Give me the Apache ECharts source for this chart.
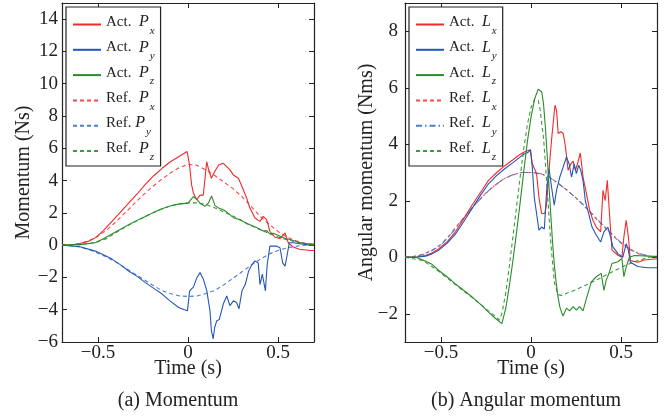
<!DOCTYPE html>
<html>
<head>
<meta charset="utf-8">
<script src="https://cdn.jsdelivr.net/npm/echarts@6/dist/echarts.min.js"></script>
<style>
html,body{margin:0;padding:0;background:#fff;}
#c{width:668px;height:419px;}
</style>
</head>
<body>
<div id="c"></div>
<script>
// ---------- (a) Momentum ----------
const tActPx = [-0.7,-0.65,-0.6,-0.55,-0.515,-0.47,-0.42,-0.375,-0.33,-0.28,-0.237,-0.19,-0.144,-0.1,-0.052,-0.005,0.008,0.02,0.03,0.048,0.067,0.085,0.095,0.104,0.113,0.13,0.148,0.17,0.196,0.215,0.233,0.252,0.28,0.3,0.326,0.344,0.372,0.4,0.418,0.437,0.455,0.483,0.511,0.539,0.557,0.585,0.62,0.678,0.7];
const actPx  = [0,0.0,0.1,0.25,0.45,0.9,1.5,2.05,2.6,3.2,3.77,4.3,4.76,5.15,5.48,5.8,5.0,3.73,3.22,2.81,3.1,3.1,4.2,5.17,4.75,4.14,4.55,4.96,5.07,4.86,4.66,4.35,4.14,3.63,2.91,2.3,1.68,1.47,1.78,1.58,0.86,0.49,0.41,0.76,0.15,-0.12,-0.25,-0.33,-0.33];

const tActPy = [-0.7,-0.6,-0.515,-0.47,-0.42,-0.375,-0.33,-0.28,-0.237,-0.19,-0.144,-0.1,-0.052,-0.02,-0.003,0.009,0.03,0.05,0.067,0.085,0.104,0.122,0.13,0.14,0.148,0.16,0.174,0.196,0.215,0.233,0.252,0.27,0.283,0.3,0.318,0.337,0.355,0.372,0.39,0.4,0.413,0.43,0.44,0.455,0.49,0.511,0.526,0.539,0.548,0.563,0.585,0.678,0.7];
const actPy  = [0,-0.1,-0.37,-0.6,-0.88,-1.22,-1.6,-1.95,-2.32,-2.68,-3.03,-3.45,-3.86,-4.0,-4.06,-2.83,-2.6,-2.0,-1.7,-2.1,-2.8,-4.06,-5.29,-5.8,-5.1,-4.68,-4.6,-3.65,-3.15,-3.75,-3.45,-3.55,-3.95,-2.83,-2.44,-1.6,-1.2,-0.98,-1.1,-2.44,-1.8,-2.83,-1.2,-0.06,-0.06,-0.16,-1.1,-1.3,-0.78,0.15,0.15,0.0,0.0];

const tActPz = [-0.7,-0.6,-0.515,-0.47,-0.42,-0.375,-0.33,-0.28,-0.237,-0.19,-0.144,-0.1,-0.052,0.0,0.011,0.03,0.048,0.067,0.094,0.113,0.131,0.15,0.17,0.196,0.215,0.224,0.252,0.28,0.307,0.326,0.344,0.381,0.418,0.437,0.455,0.474,0.511,0.548,0.567,0.622,0.678,0.7];
const actPz  = [0,0.03,0.15,0.4,0.7,0.98,1.27,1.55,1.78,2.03,2.26,2.42,2.54,2.6,2.62,3.0,2.85,2.6,2.4,2.6,3.05,2.45,2.3,2.19,2.05,1.99,1.7,1.6,1.47,1.33,1.27,1.1,0.88,0.9,0.7,0.74,0.55,0.38,0.35,0.15,0.05,0.05];

const tRefP  = [-0.7,-0.65,-0.6,-0.55,-0.5,-0.45,-0.4,-0.35,-0.3,-0.25,-0.2,-0.15,-0.1,-0.05,0,0.05,0.1,0.15,0.2,0.25,0.3,0.35,0.4,0.45,0.5,0.55,0.6,0.65,0.7];
const refPx  = [0,0.02,0.1,0.28,0.55,0.95,1.45,2.0,2.55,3.1,3.6,4.05,4.45,4.8,5.0,4.95,4.65,4.3,3.9,3.5,3.0,2.4,1.8,1.3,0.85,0.5,0.27,0.12,0.05];
const refPy  = [0,-0.03,-0.12,-0.28,-0.5,-0.75,-1.05,-1.4,-1.75,-2.1,-2.45,-2.78,-3.0,-3.14,-3.18,-3.15,-3.0,-2.8,-2.45,-2.05,-1.65,-1.25,-0.88,-0.55,-0.33,-0.17,-0.07,-0.01,0.02];
const refPz  = [0,0.01,0.03,0.1,0.22,0.42,0.78,1.1,1.42,1.7,1.98,2.22,2.42,2.56,2.62,2.62,2.52,2.3,2.05,1.8,1.52,1.22,0.95,0.72,0.5,0.33,0.2,0.1,0.05];

// ---------- (b) Angular momentum ----------
const tActLx = [-0.7,-0.64,-0.586,-0.55,-0.512,-0.465,-0.42,-0.375,-0.328,-0.28,-0.236,-0.19,-0.144,-0.1,-0.07,-0.04,-0.015,-0.003,0.007,0.018,0.031,0.044,0.059,0.077,0.087,0.1,0.114,0.133,0.142,0.151,0.166,0.179,0.192,0.206,0.221,0.234,0.247,0.258,0.274,0.289,0.308,0.326,0.344,0.363,0.387,0.4,0.412,0.424,0.436,0.45,0.483,0.505,0.516,0.529,0.541,0.552,0.593,0.63,0.685,0.7];
const actLx  = [0,0,0.06,0.15,0.3,0.55,0.9,1.35,1.84,2.3,2.72,3.0,3.25,3.45,3.6,3.72,3.78,3.8,3.32,3.37,2.96,2.13,1.55,1.55,1.9,3.08,4.14,5.38,5.2,4.38,4.44,4.38,3.9,3.08,3.3,3.4,3.08,3.3,3.69,2.84,2.25,1.66,1.31,1.07,0.9,2.37,2.0,2.72,1.55,0.25,0.07,0.0,0.72,1.31,0.72,-0.12,-0.18,-0.1,-0.06,-0.06];

const tActLy = [-0.7,-0.64,-0.586,-0.55,-0.512,-0.465,-0.42,-0.375,-0.328,-0.28,-0.236,-0.19,-0.144,-0.1,-0.07,-0.04,-0.015,-0.003,0.007,0.018,0.031,0.044,0.059,0.074,0.087,0.1,0.114,0.129,0.142,0.16,0.179,0.197,0.212,0.225,0.24,0.252,0.265,0.276,0.289,0.302,0.32,0.339,0.363,0.387,0.405,0.427,0.442,0.455,0.483,0.51,0.529,0.541,0.552,0.593,0.648,0.7];
const actLy  = [0,0,0.04,0.12,0.25,0.5,0.82,1.25,1.72,2.2,2.6,2.9,3.14,3.35,3.5,3.65,3.72,3.8,3.2,2.13,1.55,0.96,1.07,1.0,2.37,3.14,2.49,1.84,2.37,2.84,3.2,3.55,3.3,2.84,3.3,2.96,3.26,3.08,2.72,2.0,1.55,1.07,0.78,0.54,0.9,1.07,0.72,0.37,0.13,0.0,0.48,0.25,-0.18,-0.33,-0.37,-0.37];

const tActLz = [-0.7,-0.64,-0.6,-0.55,-0.512,-0.465,-0.42,-0.375,-0.328,-0.28,-0.236,-0.2,-0.162,-0.14,-0.12,-0.1,-0.08,-0.06,-0.04,-0.02,0.0,0.02,0.04,0.05,0.06,0.07,0.08,0.09,0.1,0.11,0.12,0.13,0.14,0.15,0.16,0.17,0.178,0.197,0.215,0.234,0.252,0.27,0.289,0.307,0.335,0.363,0.39,0.405,0.418,0.436,0.45,0.483,0.505,0.516,0.529,0.547,0.575,0.685,0.7];
const actLz  = [0,0,-0.1,-0.25,-0.47,-0.7,-0.94,-1.17,-1.4,-1.67,-1.94,-2.15,-2.35,-1.8,-1.0,-0.1,0.9,1.95,3.05,4.1,4.95,5.6,5.95,6.0,5.85,5.4,4.6,3.6,2.5,1.5,0.5,-0.3,-0.9,-1.4,-1.75,-1.95,-2.08,-1.8,-1.9,-1.75,-1.87,-1.75,-1.9,-1.48,-0.87,-0.69,-0.57,-1.17,-0.81,-0.52,-0.22,-0.16,-0.04,-0.69,-0.34,0.0,0.06,0.03,0.03];

const tRefL  = [-0.7,-0.65,-0.6,-0.55,-0.5,-0.45,-0.4,-0.35,-0.3,-0.25,-0.2,-0.15,-0.1,-0.05,0,0.05,0.1,0.15,0.2,0.25,0.3,0.35,0.4,0.45,0.5,0.55,0.6,0.65,0.7];
const refLx  = [0,0.03,0.1,0.25,0.45,0.8,1.2,1.58,1.95,2.28,2.55,2.78,2.92,3.0,3.0,2.97,2.85,2.62,2.38,2.1,1.78,1.45,1.12,0.8,0.5,0.27,0.12,0.04,0.0];
const refLy  = [0,0.03,0.1,0.24,0.44,0.78,1.18,1.57,1.94,2.27,2.55,2.78,2.92,3.0,3.0,2.96,2.84,2.62,2.37,2.1,1.8,1.47,1.14,0.82,0.52,0.29,0.13,0.05,0.01];

const tRefLz = [-0.7,-0.6,-0.512,-0.42,-0.328,-0.236,-0.2,-0.175,-0.16,-0.14,-0.12,-0.1,-0.08,-0.06,-0.04,-0.02,0.0,0.02,0.03,0.04,0.05,0.07,0.09,0.11,0.13,0.15,0.17,0.25,0.35,0.45,0.52,0.6,0.657,0.7];
const refLz  = [0,-0.12,-0.5,-0.97,-1.42,-1.9,-2.08,-2.22,-1.95,-1.25,-0.3,0.75,1.8,2.85,3.85,4.7,5.3,5.6,5.65,5.55,5.25,4.2,2.4,0.5,-0.9,-1.32,-1.35,-1.15,-0.85,-0.52,-0.3,-0.1,0.0,0.03];

// ---------- ticks / labels ----------
const xTicks = [-0.5, 0, 0.5];
const yTicksA = [-6,-4,-2,0,2,4,6,8,10,12,14];
const yTicksB = [-2,0,2,4,6,8];

const names = {
  'Act. Px':['Act.','  ','P','x'], 'Act. Py':['Act.','  ','P','y'], 'Act. Pz':['Act.','  ','P','z'],
  'Ref. Px':['Ref.','  ','P','x'], 'Ref. Py':['Ref.',' ','P','y'], 'Ref. Pz':['Ref.','  ','P','z'],
  'Act. Lx':['Act.','  ','L','x'], 'Act. Ly':['Act.','  ','L','y'], 'Act. Lz':['Act.','  ','L','z'],
  'Ref. Lx':['Ref.','  ','L','x'], 'Ref. Ly':['Ref.','  ','L','y'], 'Ref. Lz':['Ref.','  ','L','z']
};

const FONT = 'Liberation Serif';
const RED = '#ee2a2a', BLUE = '#2456b8', GREEN = '#2b8a2b';
const RRED = '#f04a4a', RBLUE = '#4a7ed0', RGREEN = '#3d9a3d';

function zip(t, v){ return t.map((x,i)=>[x, v[i]]); }
function minus(s){ return String(s).replace('-', '\u2212'); }

const chart = echarts.init(document.getElementById('c'), null, {renderer:'canvas'});

const grids = [
  {left:62, top:3, width:252, height:339, show:false},
  {left:405, top:3, width:252, height:339, show:false}
];

const TICKFS = 19, NAMEFS = 20;

function xAxes(gi){
  return [
    {type:'value', gridIndex:gi, min:-0.7, max:0.7, position:'bottom',
     name:'Time (s)', nameLocation:'middle', nameGap:17, nameMoveOverlap:false,
     nameTextStyle:{fontFamily:FONT, fontSize:NAMEFS, color:'#222', verticalAlign:'top'},
     axisLine:{lineStyle:{color:'#222', width:1.2}, onZero:false},
     axisTick:{inside:true, length:5, customValues:xTicks, lineStyle:{color:'#222'}},
     axisLabel:{customValues:xTicks, fontFamily:FONT, fontSize:TICKFS, color:'#222', margin:2, formatter:v=>minus(v)},
     splitLine:{show:false}},
    {type:'value', gridIndex:gi, min:-0.7, max:0.7, position:'top',
     axisLine:{lineStyle:{color:'#222', width:1.2}, onZero:false},
     axisTick:{inside:true, length:5, customValues:xTicks, lineStyle:{color:'#222'}},
     axisLabel:{show:false}, splitLine:{show:false}}
  ];
}
function yAxes(gi, min, max, ticks, name, gap, margin){
  return [
    {type:'value', gridIndex:gi, min:min, max:max, position:'left',
     name:name, nameLocation:'middle', nameGap:gap, nameMoveOverlap:false,
     nameTextStyle:{fontFamily:FONT, fontSize:NAMEFS, color:'#222'},
     axisLine:{show:true, lineStyle:{color:'#222', width:1.2}, onZero:false},
     axisTick:{show:true, inside:true, length:5, customValues:ticks, lineStyle:{color:'#222'}},
     axisLabel:{customValues:ticks, fontFamily:FONT, fontSize:TICKFS, color:'#222', margin:margin, formatter:v=>minus(v)},
     splitLine:{show:false}},
    {type:'value', gridIndex:gi, min:min, max:max, position:'right',
     axisLine:{show:true, lineStyle:{color:'#222', width:1.2}, onZero:false},
     axisTick:{show:true, inside:true, length:5, customValues:ticks, lineStyle:{color:'#222'}},
     axisLabel:{show:false}, splitLine:{show:false}}
  ];
}

function line(name, data, color, type, xi, yi, z){
  return {name:name, type:'line', xAxisIndex:xi, yAxisIndex:yi, data:data,
    showSymbol:false, symbol:'none', smooth:false, animation:false, z:z||2,
    lineStyle:{color:color, width:1.1, type:type||'solid'}, itemStyle:{color:color}};
}

const richStyle = {
  a:{fontFamily:FONT, fontSize:15, color:'#222', padding:[0,0,5,0]},
  v:{fontFamily:FONT, fontSize:16, fontStyle:'italic', color:'#222', padding:[0,0,5,0]},
  s:{fontFamily:FONT, fontSize:11, fontStyle:'italic', color:'#222', padding:[13,0,0,1]}
};
function legendFmt(n){ const p = names[n]; return '{a|' + p[0] + '}' + p[1] + '{v|' + p[2] + '}{s|' + p[3] + '}'; }

function legend(left, data){
  return {left:left, top:7, orient:'vertical', data:data,
    backgroundColor:'#fff', borderColor:'#222', borderWidth:1.2, borderRadius:0,
    padding:[7,6,3,6], itemGap:2.8, itemWidth:28, itemHeight:10,
    selectedMode:false, formatter:legendFmt,
    itemStyle:{opacity:0, borderWidth:0},
    textStyle:{fontFamily:FONT, fontSize:15, color:'#222', rich:richStyle}};
}

const DASH = [4,3];
const DASHDOT = [6,3,1.5,3];

const option = {
  backgroundColor:'#fff',
  animation:false,
  grid: grids,
  xAxis: xAxes(0).concat(xAxes(1)),
  yAxis: yAxes(0, -6, 15, yTicksA, 'Momentum (Ns)', 28, 4).concat(yAxes(1, -3, 9, yTicksB, 'Angular momentum (Nms)', 28, 7)),
  legend: [
    legend(66, ['Act. Px','Act. Py','Act. Pz','Ref. Px','Ref. Py','Ref. Pz']),
    legend(409, ['Act. Lx','Act. Ly','Act. Lz','Ref. Lx','Ref. Ly','Ref. Lz'])
  ],
  series: [
    line('Ref. Px', zip(tRefP, refPx), RRED, DASH, 0, 0),
    line('Ref. Py', zip(tRefP, refPy), RBLUE, DASH, 0, 0),
    line('Ref. Pz', zip(tRefP, refPz), RGREEN, DASH, 0, 0),
    line('Act. Px', zip(tActPx, actPx), RED, 'solid', 0, 0, 3),
    line('Act. Py', zip(tActPy, actPy), BLUE, 'solid', 0, 0, 3),
    line('Act. Pz', zip(tActPz, actPz), GREEN, 'solid', 0, 0, 3),
    line('Ref. Lx', zip(tRefL, refLx), RRED, DASH, 2, 2),
    line('Ref. Ly', zip(tRefL, refLy), RBLUE, DASHDOT, 2, 2),
    line('Ref. Lz', zip(tRefLz, refLz), RGREEN, DASH, 2, 2),
    line('Act. Lx', zip(tActLx, actLx), RED, 'solid', 2, 2, 3),
    line('Act. Ly', zip(tActLy, actLy), BLUE, 'solid', 2, 2, 3),
    line('Act. Lz', zip(tActLz, actLz), GREEN, 'solid', 2, 2, 3)
  ],
  graphic: [
    {type:'text', x:178, y:401, style:{text:'(a) Momentum', font:'20px "Liberation Serif"', fill:'#222', textAlign:'center', textVerticalAlign:'middle'}},
    {type:'text', x:526, y:401, style:{text:'(b) Angular momentum', font:'20px "Liberation Serif"', fill:'#222', textAlign:'center', textVerticalAlign:'middle'}}
  ]
};
chart.setOption(option);
</script>
</body>
</html>
